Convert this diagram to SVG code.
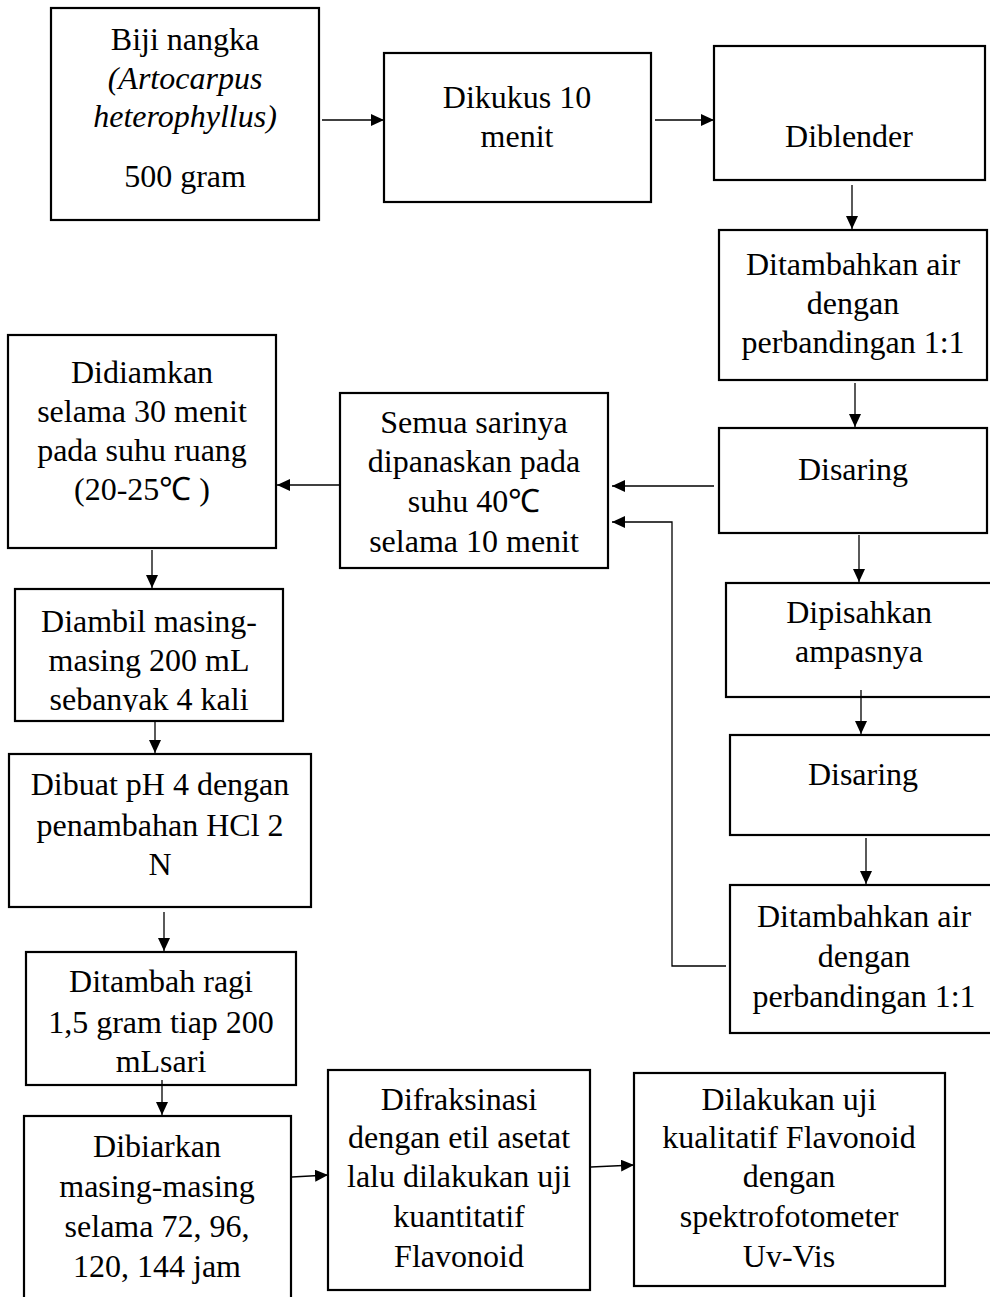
<svg xmlns="http://www.w3.org/2000/svg" width="990" height="1297" viewBox="0 0 990 1297">
<style>
.box{fill:#fff;stroke:#000;stroke-width:2.2}
.t{font-family:"Liberation Serif","Times New Roman",serif;font-size:32px;fill:#000;text-anchor:middle}
.i{font-style:italic}
.c{fill:none;stroke:#000;stroke-width:1.3}
</style>
<defs>
<marker id="ah" markerUnits="userSpaceOnUse" markerWidth="14" markerHeight="12" refX="13" refY="6" orient="auto">
<path d="M0,0 L13,6 L0,12 z" fill="#000"/>
</marker>
<clipPath id="clip8"><rect x="15" y="589" width="268" height="123"/></clipPath>
</defs>
<rect width="990" height="1297" fill="#fff"/>
<g id="n1"><rect class="box" x="51" y="8" width="268" height="212"/>
<text class="t" x="185" y="50">Biji nangka</text>
<text class="t i" x="185" y="89">(Artocarpus</text>
<text class="t i" x="185" y="127">heterophyllus)</text>
<text class="t" x="185" y="187">500 gram</text></g>
<g id="n2"><rect class="box" x="384" y="53" width="267" height="149"/>
<text class="t" x="517" y="108">Dikukus 10</text>
<text class="t" x="517" y="147">menit</text></g>
<g id="n3"><rect class="box" x="714" y="46" width="271" height="134"/>
<text class="t" x="849" y="147">Diblender</text></g>
<g id="n4"><rect class="box" x="719" y="230" width="268" height="150"/>
<text class="t" x="853" y="275">Ditambahkan air</text>
<text class="t" x="853" y="314">dengan</text>
<text class="t" x="853" y="353">perbandingan 1:1</text></g>
<g id="n5"><rect class="box" x="719" y="428" width="268" height="105"/>
<text class="t" x="853" y="480">Disaring</text></g>
<g id="n6"><rect class="box" x="340" y="393" width="268" height="175"/>
<text class="t" x="474" y="433">Semua sarinya</text>
<text class="t" x="474" y="472">dipanaskan pada</text>
<text class="t" x="474" y="512">suhu 40℃</text>
<text class="t" x="474" y="552">selama 10 menit</text></g>
<g id="n7"><rect class="box" x="8" y="335" width="268" height="213"/>
<text class="t" x="142" y="383">Didiamkan</text>
<text class="t" x="142" y="422">selama 30 menit</text>
<text class="t" x="142" y="461">pada suhu ruang</text>
<text class="t" x="142" y="500">(20-25℃ )</text></g>
<g id="n8"><rect class="box" x="15" y="589" width="268" height="132"/>
<g clip-path="url(#clip8)">
<text class="t" x="149" y="632">Diambil masing-</text>
<text class="t" x="149" y="671">masing 200 mL</text>
<text class="t" x="149" y="710">sebanyak 4 kali</text></g></g>
<g id="n9"><rect class="box" x="9" y="754" width="302" height="153"/>
<text class="t" x="160" y="795">Dibuat pH 4 dengan</text>
<text class="t" x="160" y="836">penambahan HCl 2</text>
<text class="t" x="160" y="875">N</text></g>
<g id="n10"><rect class="box" x="26" y="952" width="270" height="133"/>
<text class="t" x="161" y="992">Ditambah ragi</text>
<text class="t" x="161" y="1033">1,5 gram tiap 200</text>
<text class="t" x="161" y="1072">mLsari</text></g>
<g id="n11"><rect class="box" x="24" y="1116" width="267" height="200"/>
<text class="t" x="157" y="1157">Dibiarkan</text>
<text class="t" x="157" y="1197">masing-masing</text>
<text class="t" x="157" y="1237">selama 72, 96,</text>
<text class="t" x="157" y="1277">120, 144 jam</text></g>
<g id="n12"><rect class="box" x="328" y="1070" width="262" height="220"/>
<text class="t" x="459" y="1110">Difraksinasi</text>
<text class="t" x="459" y="1148">dengan etil asetat</text>
<text class="t" x="459" y="1187">lalu dilakukan uji</text>
<text class="t" x="459" y="1227">kuantitatif</text>
<text class="t" x="459" y="1267">Flavonoid</text></g>
<g id="n13"><rect class="box" x="634" y="1073" width="311" height="213"/>
<text class="t" x="789" y="1110">Dilakukan uji</text>
<text class="t" x="789" y="1148">kualitatif Flavonoid</text>
<text class="t" x="789" y="1187">dengan</text>
<text class="t" x="789" y="1227">spektrofotometer</text>
<text class="t" x="789" y="1267">Uv-Vis</text></g>
<g id="n14"><rect class="box" x="726" y="583" width="300" height="114"/>
<text class="t" x="859" y="623">Dipisahkan</text>
<text class="t" x="859" y="662">ampasnya</text></g>
<g id="n15"><rect class="box" x="730" y="735" width="300" height="100"/>
<text class="t" x="863" y="785">Disaring</text></g>
<g id="n16"><rect class="box" x="730" y="885" width="300" height="148"/>
<text class="t" x="864" y="927">Ditambahkan air</text>
<text class="t" x="864" y="967">dengan</text>
<text class="t" x="864" y="1007">perbandingan 1:1</text></g>
<g id="connectors">
<line class="c" x1="322" y1="120" x2="384" y2="120" marker-end="url(#ah)"/>
<line class="c" x1="655" y1="120" x2="714" y2="120" marker-end="url(#ah)"/>
<line class="c" x1="852" y1="185" x2="852" y2="229" marker-end="url(#ah)"/>
<line class="c" x1="855" y1="383" x2="855" y2="427" marker-end="url(#ah)"/>
<line class="c" x1="714" y1="486" x2="612" y2="486" marker-end="url(#ah)"/>
<line class="c" x1="340" y1="485" x2="277" y2="485" marker-end="url(#ah)"/>
<line class="c" x1="152" y1="550" x2="152" y2="588" marker-end="url(#ah)"/>
<line class="c" x1="155" y1="721" x2="155" y2="753" marker-end="url(#ah)"/>
<line class="c" x1="164" y1="912" x2="164" y2="951" marker-end="url(#ah)"/>
<line class="c" x1="162" y1="1080" x2="162" y2="1115" marker-end="url(#ah)"/>
<line class="c" x1="292" y1="1177" x2="328" y2="1175" marker-end="url(#ah)"/>
<line class="c" x1="591" y1="1167" x2="634" y2="1165" marker-end="url(#ah)"/>
<line class="c" x1="859" y1="535" x2="859" y2="582" marker-end="url(#ah)"/>
<line class="c" x1="861" y1="690" x2="861" y2="734" marker-end="url(#ah)"/>
<line class="c" x1="866" y1="838" x2="866" y2="884" marker-end="url(#ah)"/>
<polyline class="c" points="726,966 672,966 672,522 612,522" marker-end="url(#ah)"/>
</g>
</svg>
